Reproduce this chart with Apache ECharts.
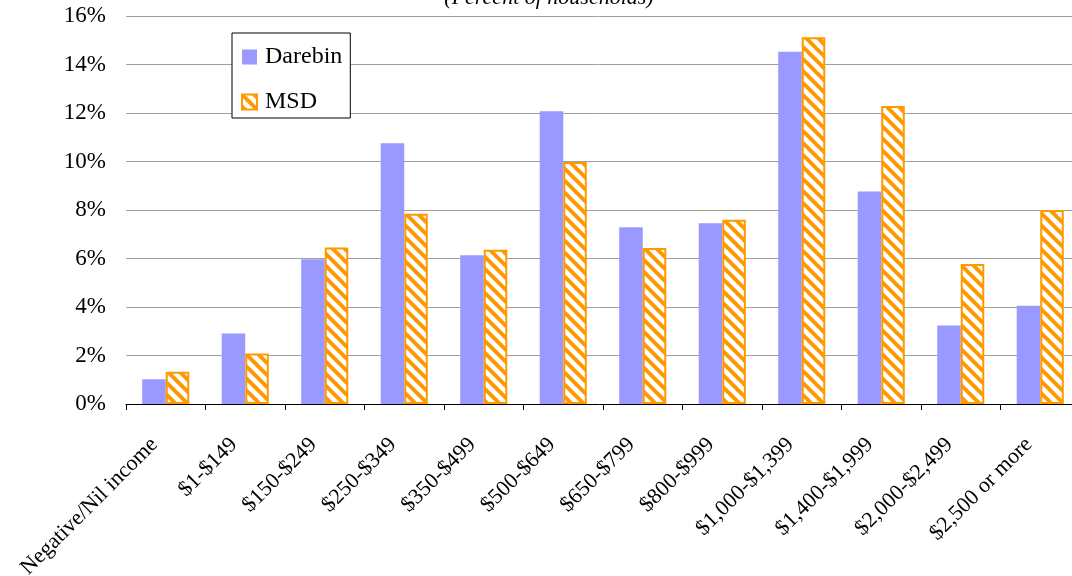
<!DOCTYPE html>
<html>
<head>
<meta charset="utf-8">
<script src="https://cdn.jsdelivr.net/npm/echarts@6/dist/echarts.min.js"></script>
<style>html,body{margin:0;padding:0;background:#fff;}#c{width:1072px;height:576px;}</style>
</head>
<body>
<div id="c"></div>
<script>
const categories = ["Negative/Nil income","$1-$149","$150-$249","$250-$349","$350-$499","$500-$649","$650-$799","$800-$999","$1,000-$1,399","$1,400-$1,999","$2,000-$2,499","$2,500 or more"];
const darebin = [1.02, 2.91, 5.97, 10.75, 6.13, 12.07, 7.29, 7.45, 14.53, 8.76, 3.24, 4.05];
const msd = [1.33, 2.08, 6.45, 7.85, 6.36, 9.98, 6.43, 7.60, 15.12, 12.29, 5.77, 8.00];
const yTicks = [0, 2, 4, 6, 8, 10, 12, 14, 16];
const titleText = "(Percent of households)";

function hatch() {
  const P = 12;
  const cv = document.createElement('canvas');
  cv.width = P; cv.height = P;
  const g = cv.getContext('2d');
  g.fillStyle = '#ffffff';
  g.fillRect(0, 0, P, P);
  g.strokeStyle = '#FF9900';
  g.lineWidth = 4;
  g.beginPath();
  for (let i = -P; i <= P; i += P) {
    g.moveTo(i - 1, -1);
    g.lineTo(i + P + 1, P + 1);
  }
  g.stroke();
  return cv;
}

const font = 'Liberation Serif';
const chart = echarts.init(document.getElementById('c'));
chart.setOption({
  animation: false,
  backgroundColor: '#ffffff',
  graphic: [{
    type: 'text',
    x: 549, y: 9,
    silent: true,
    style: {
      text: titleText,
      font: 'italic 22px "Liberation Serif"',
      fill: '#000',
      align: 'center',
      verticalAlign: 'bottom',
      lineHeight: 22
    }
  }],
  legend: {
    orient: 'vertical',
    left: 232, top: 33,
    padding: [12, 8, 4, 9],
    itemWidth: 15, itemHeight: 15, itemGap: 21,
    borderColor: '#000', borderWidth: 1,
    backgroundColor: '#fff',
    icon: 'rect',
    textStyle: { fontFamily: font, fontSize: 24, color: '#000', lineHeight: 24, padding: [0, 0, 0, 3] },
    data: ['Darebin', 'MSD']
  },
  grid: { left: 126, top: 16, width: 954, height: 388, containLabel: false, outerBoundsMode: 'none' },
  xAxis: {
    type: 'category',
    data: categories,
    axisLine: { lineStyle: { color: '#000', width: 1 } },
    axisTick: { show: true, length: 6, lineStyle: { color: '#000' } },
    axisLabel: { interval: 0, rotate: 45, margin: 26, padding: [0, 16, 0, 0], fontFamily: font, fontSize: 22, color: '#000' },
    splitLine: { show: false }
  },
  yAxis: {
    type: 'value',
    min: yTicks[0], max: yTicks[yTicks.length - 1], interval: 2,
    axisLine: { show: false },
    axisTick: { show: false },
    axisLabel: { margin: 20, fontFamily: font, fontSize: 23, color: '#000', formatter: v => v + '%' },
    splitLine: { lineStyle: { color: '#a0a0a0', width: 1 } }
  },
  series: [
    {
      name: 'Darebin', type: 'bar', data: darebin,
      barWidth: '29.6%', barGap: '0%',
      itemStyle: { color: '#9999FF' }
    },
    {
      name: 'MSD', type: 'bar', data: msd,
      barWidth: '29.6%', barGap: '0%',
      itemStyle: { color: { image: hatch(), repeat: 'repeat' }, borderColor: '#FF9900', borderWidth: 2 }
    }
  ]
});
</script>
</body>
</html>
